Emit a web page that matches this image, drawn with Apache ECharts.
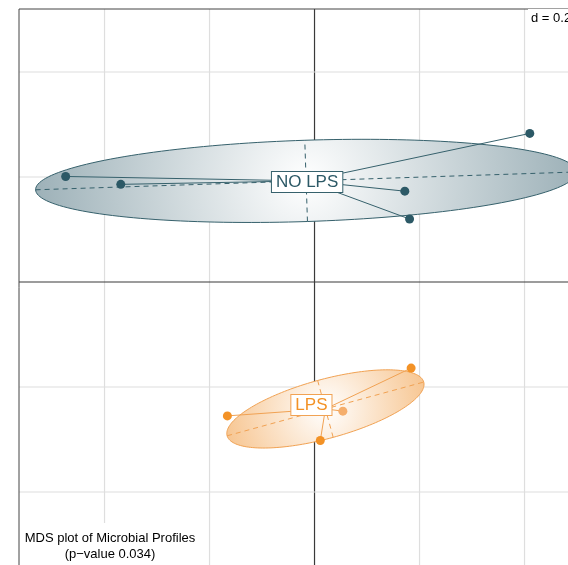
<!DOCTYPE html>
<html><head><meta charset="utf-8">
<script src="https://cdn.jsdelivr.net/npm/echarts@6/dist/echarts.min.js"></script>
<style>html,body{margin:0;padding:0;background:#fff}#c{width:568px;height:565px}</style>
</head><body><div id="c"></div>
<script>
// ---- data ----
const groupNames = ['NO LPS', 'LPS'];
const noLpsX = [-0.474, -0.369, 0.410, 0.172, 0.181];
const noLpsY = [0.201, 0.186, 0.283, 0.173, 0.120];
const lpsX = [0.184, -0.166, 0.054, 0.011];
const lpsY = [-0.164, -0.255, -0.246, -0.302];
const gridTicks = [-0.4, -0.2, 0.2, 0.4];
const scaleLabel = 'd = 0.2';
const titleText = 'MDS plot of Microbial Profiles\n(p\u2212value 0.034)';
const cellipse = 1.5;

// ---- styles ----
const styles = [
  {point: '#2c5966', line: '#36616c', edge: '#9db1b8', labelOffset: [1, 1]},
  {point: '#f39226', line: '#f1a253', edge: '#f7c692', labelOffset: [-14, -4]}
];
const FONT = '"Liberation Sans", Arial, sans-serif';

function stats(xs, ys) {
  const n = xs.length;
  const cx = xs.reduce((a, b) => a + b, 0) / n;
  const cy = ys.reduce((a, b) => a + b, 0) / n;
  let vx = 0, vy = 0, cv = 0;
  for (let i = 0; i < n; i++) {
    vx += (xs[i] - cx) ** 2; vy += (ys[i] - cy) ** 2; cv += (xs[i] - cx) * (ys[i] - cy);
  }
  vx /= n; vy /= n; cv /= n;
  const m = (vx + vy) / 2, d = Math.sqrt(((vx - vy) / 2) ** 2 + cv * cv);
  const l1 = m + d, l2 = Math.max(m - d, 0);
  const th = 0.5 * Math.atan2(2 * cv, vx - vy);
  return {cx, cy, a: cellipse * Math.sqrt(l1), b: cellipse * Math.sqrt(l2), th, xs, ys};
}

const groupStats = [stats(noLpsX, noLpsY), stats(lpsX, lpsY)];

// plot window: 525 px per unit, left edge at 19px, top edge at 9px
const PX = 525;
const GL = 19, GT = 9, GW = 549, GH = 556;
const X0 = -0.5629, Y1 = 0.5200;
const X1 = X0 + GW / PX, Y0 = Y1 - GH / PX;

function gridRender(vertical) {
  return function (params, api) {
    const cs = params.coordSys;
    const v = api.value(0);
    const col = v === 0 ? '#3a3a3a' : '#dedede';
    const w = 1.2;
    if (vertical) {
      const p = api.coord([v, 0]);
      return {type: 'line', shape: {x1: p[0], y1: cs.y, x2: p[0], y2: cs.y + cs.height}, style: {stroke: col, lineWidth: w}};
    } else {
      const p = api.coord([0, v]);
      return {type: 'line', shape: {x1: cs.x, y1: p[1], x2: cs.x + cs.width, y2: p[1]}, style: {stroke: col, lineWidth: w}};
    }
  };
}

function frameRender(params, api) {
  const cs = params.coordSys;
  return {type: 'group', children: [
    {type: 'line', shape: {x1: cs.x, y1: cs.y, x2: cs.x + cs.width + 5, y2: cs.y}, style: {stroke: '#444', lineWidth: 1}},
    {type: 'line', shape: {x1: cs.x, y1: cs.y, x2: cs.x, y2: cs.y + cs.height + 5}, style: {stroke: '#444', lineWidth: 1}}
  ]};
}

function ellipseRender(st, sty) {
  return function (params, api) {
    const c = api.coord([st.cx, st.cy]);
    const ct = Math.cos(st.th), s = Math.sin(st.th);
    const pts = [];
    for (let i = 0; i <= 180; i++) {
      const t = i / 180 * 2 * Math.PI;
      const dx = st.a * Math.cos(t) * ct - st.b * Math.sin(t) * s;
      const dy = st.a * Math.cos(t) * s + st.b * Math.sin(t) * ct;
      pts.push(api.coord([st.cx + dx, st.cy + dy]));
    }
    const ra = api.size([st.a, 0])[0];
    const m1 = api.coord([st.cx - st.a * ct, st.cy - st.a * s]);
    const m2 = api.coord([st.cx + st.a * ct, st.cy + st.a * s]);
    const n1 = api.coord([st.cx + st.b * s, st.cy - st.b * ct]);
    const n2 = api.coord([st.cx - st.b * s, st.cy + st.b * ct]);
    const children = [
      {type: 'polygon', shape: {points: pts}, style: {
        fill: {type: 'radial', x: c[0], y: c[1], r: ra, global: true,
          colorStops: [{offset: 0, color: '#ffffff'}, {offset: 1, color: sty.edge}]},
        stroke: sty.line, lineWidth: 1}},
      {type: 'line', shape: {x1: m1[0], y1: m1[1], x2: m2[0], y2: m2[1]}, style: {stroke: sty.line, lineWidth: 1, lineDash: [5, 4]}},
      {type: 'line', shape: {x1: n1[0], y1: n1[1], x2: n2[0], y2: n2[1]}, style: {stroke: sty.line, lineWidth: 1, lineDash: [5, 4]}}
    ];
    for (let i = 0; i < st.xs.length; i++) {
      const p = api.coord([st.xs[i], st.ys[i]]);
      children.push({type: 'line', shape: {x1: c[0], y1: c[1], x2: p[0], y2: p[1]}, style: {stroke: sty.line, lineWidth: 1}});
    }
    return {type: 'group', children};
  };
}

function labelRender(st, sty, name) {
  return function (params, api) {
    const c = api.coord([st.cx, st.cy]);
    return {type: 'text', x: c[0] + sty.labelOffset[0], y: c[1] + sty.labelOffset[1], style: {
      text: name, fill: sty.point, font: '17px ' + FONT, align: 'center', verticalAlign: 'middle',
      backgroundColor: '#ffffff', borderColor: sty.line, borderWidth: 1, padding: [2, 4, 1, 4], lineHeight: 17}};
  };
}

const lineTicks = gridTicks.concat([0]).map(v => [v, 0]);
const series = [
  {type: 'custom', coordinateSystem: 'cartesian2d', data: lineTicks, renderItem: gridRender(true), clip: true, silent: true, z: 1},
  {type: 'custom', coordinateSystem: 'cartesian2d', data: lineTicks, renderItem: gridRender(false), clip: true, silent: true, z: 1},
  {type: 'custom', coordinateSystem: 'cartesian2d', data: [[0, 0]], renderItem: frameRender, clip: false, silent: true, z: 5}
];
groupStats.forEach((st, g) => {
  series.push({type: 'custom', coordinateSystem: 'cartesian2d', data: [[st.cx, st.cy]], renderItem: ellipseRender(st, styles[g]), clip: true, silent: true, z: 2});
});
groupStats.forEach((st, g) => {
  series.push({type: 'scatter', symbolSize: 9, itemStyle: {color: styles[g].point, opacity: 1},
    data: st.xs.map((x, i) => {
      const d = {value: [x, st.ys[i]]};
      if (g === 1 && i === 2) d.itemStyle = {color: '#f5ae6c'};
      return d;
    }), silent: true, z: 3});
});
groupStats.forEach((st, g) => {
  series.push({type: 'custom', coordinateSystem: 'cartesian2d', data: [[st.cx, st.cy]], renderItem: labelRender(st, styles[g], groupNames[g]), clip: false, silent: true, z: 4});
});

const chart = echarts.init(document.getElementById('c'), null, {renderer: 'canvas'});
chart.setOption({
  animation: false,
  backgroundColor: '#ffffff',
  grid: {left: GL, top: GT, width: GW, height: GH, show: false, containLabel: false, outerBoundsMode: 'none'},
  xAxis: {type: 'value', min: X0, max: X1, show: false},
  yAxis: {type: 'value', min: Y0, max: Y1, show: false},
  series,
  graphic: [
    {type: 'text', left: 528, top: 9, z: 100, style: {text: scaleLabel, font: '13px ' + FONT, fill: '#000', backgroundColor: '#fff', padding: [3, 3, 4, 3]}},
    {type: 'text', x: 110, y: 523, z: 100, style: {text: titleText, font: '13px ' + FONT, fill: '#000', align: 'center', verticalAlign: 'top', lineHeight: 16, backgroundColor: '#fff', padding: [7, 2, 20, 2]}}
  ]
});
</script></body></html>
